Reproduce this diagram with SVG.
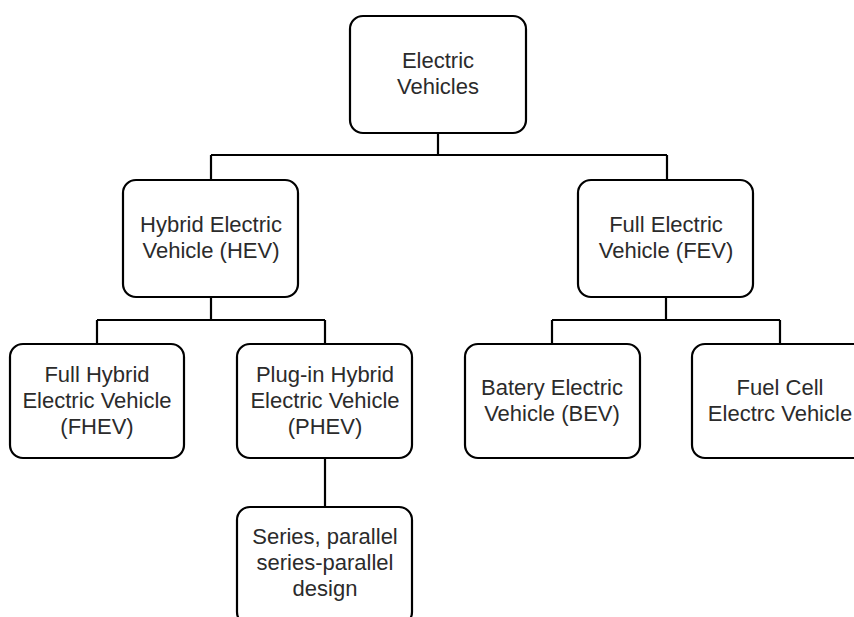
<svg xmlns="http://www.w3.org/2000/svg" width="854" height="617" viewBox="0 0 854 617">
<style>
.box{fill:#fff;stroke:#000;stroke-width:2.2}
.t{font-family:"Liberation Sans",Arial,sans-serif;font-size:22px;fill:#2b2b2b;text-anchor:middle}
.c{fill:none;stroke:#000;stroke-width:2.2}
</style>
<rect width="854" height="617" fill="#fff"/>
<g id="connectors">
<path class="c" d="M438 133V155M211 155H667M211 155V180M667 155V180"/>
<path class="c" d="M211 297V320M97 320H325M97 320V344M325 320V344"/>
<path class="c" d="M666 297V320M552 320H780M552 320V344M780 320V344"/>
<path class="c" d="M325 458V507"/>
</g>
<g id="ev">
<rect class="box" x="350" y="16" width="176" height="117" rx="13"/>
<text class="t" x="438" y="68">Electric</text>
<text class="t" x="438" y="94">Vehicles</text>
</g>
<g id="hev">
<rect class="box" x="123" y="180" width="175" height="117" rx="13"/>
<text class="t" x="211" y="232">Hybrid Electric</text>
<text class="t" x="211" y="258">Vehicle (HEV)</text>
</g>
<g id="fev">
<rect class="box" x="578" y="180" width="175" height="117" rx="13"/>
<text class="t" x="666" y="232">Full Electric</text>
<text class="t" x="666" y="258">Vehicle (FEV)</text>
</g>
<g id="fhev">
<rect class="box" x="10" y="344" width="174" height="114" rx="13"/>
<text class="t" x="97" y="382">Full Hybrid</text>
<text class="t" x="97" y="408">Electric Vehicle</text>
<text class="t" x="97" y="434">(FHEV)</text>
</g>
<g id="phev">
<rect class="box" x="237" y="344" width="175" height="114" rx="13"/>
<text class="t" x="325" y="382">Plug-in Hybrid</text>
<text class="t" x="325" y="408">Electric Vehicle</text>
<text class="t" x="325" y="434">(PHEV)</text>
</g>
<g id="bev">
<rect class="box" x="465" y="344" width="175" height="114" rx="13"/>
<text class="t" x="552" y="395">Batery Electric</text>
<text class="t" x="552" y="421">Vehicle (BEV)</text>
</g>
<g id="fcev">
<rect class="box" x="692" y="344" width="175" height="114" rx="13"/>
<text class="t" x="780" y="395">Fuel Cell</text>
<text class="t" x="780" y="421">Electrc Vehicle</text>
</g>
<g id="series">
<rect class="box" x="237" y="507" width="175" height="118" rx="13"/>
<text class="t" x="325" y="544">Series, parallel</text>
<text class="t" x="325" y="570">series-parallel</text>
<text class="t" x="325" y="596">design</text>
</g>
</svg>
